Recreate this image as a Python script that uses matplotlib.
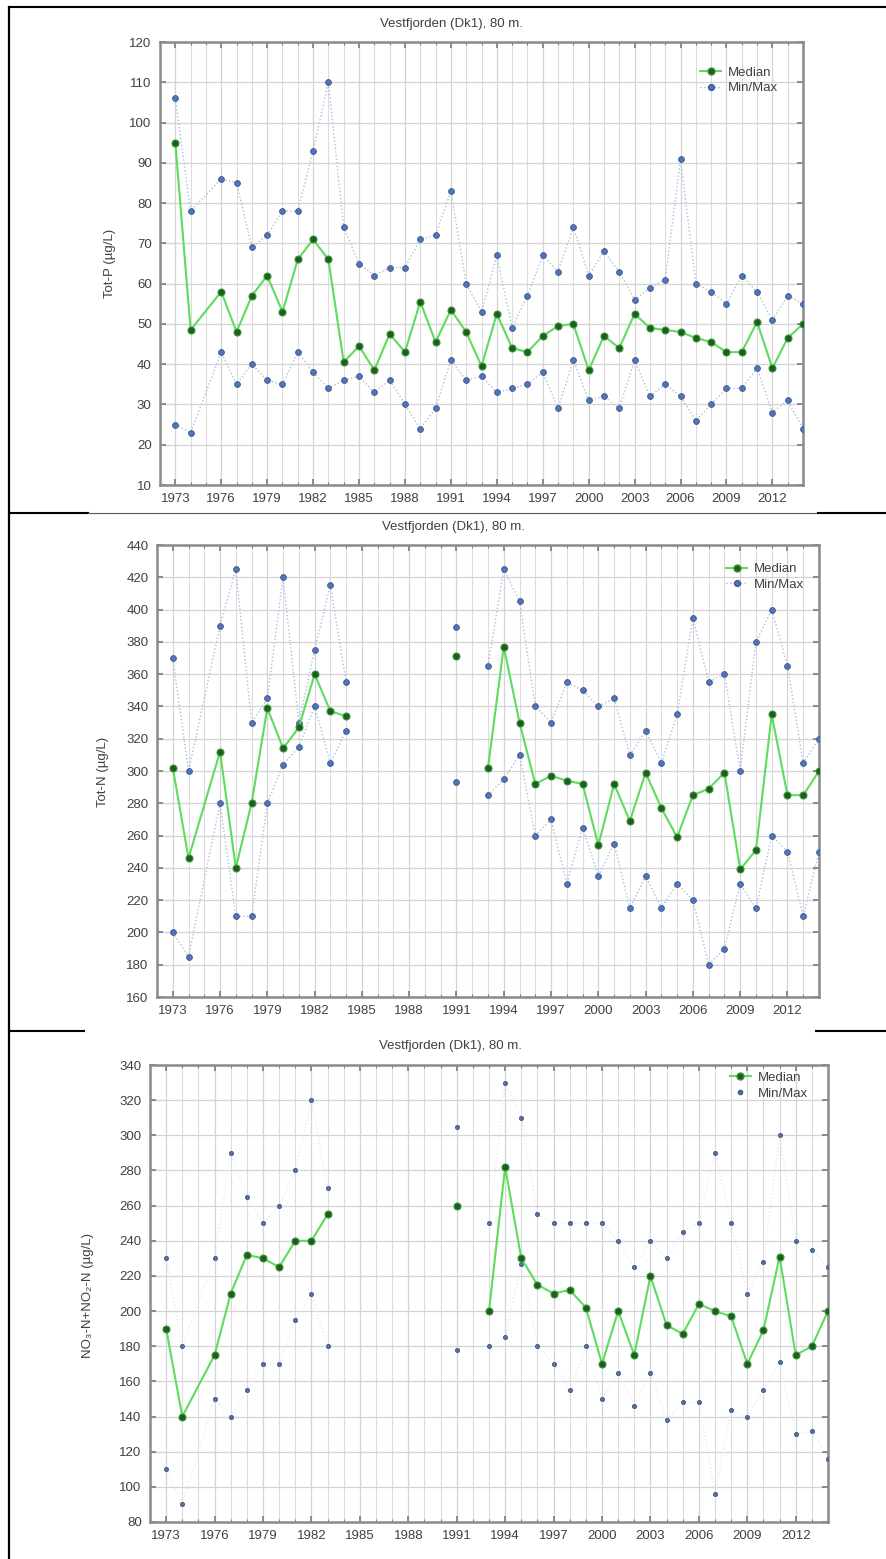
import numpy as np
import matplotlib
matplotlib.use("Agg")
import matplotlib.pyplot as plt
from matplotlib.lines import Line2D

plt.rcParams['font.family'] = ['Liberation Sans', 'DejaVu Sans']

nan = np.nan

# Sampling years (no survey in 1975)
years = [1973, 1974, 1976, 1977, 1978, 1979, 1980, 1981, 1982, 1983, 1984,
         1985, 1986, 1987, 1988, 1989, 1990, 1991, 1992, 1993, 1994, 1995,
         1996, 1997, 1998, 1999, 2000, 2001, 2002, 2003, 2004, 2005, 2006,
         2007, 2008, 2009, 2010, 2011, 2012, 2013, 2014]

# Tot-P (µg/L)
totp_median = [95, 48.5, 58, 48, 57, 62, 53, 66, 71, 66, 40.5, 44.5, 38.5, 47.5,
               43, 55.5, 45.5, 53.5, 48, 39.5, 52.5, 44, 43, 47, 49.5, 50, 38.5,
               47, 44, 52.5, 49, 48.5, 48, 46.5, 45.5, 43, 43, 50.5, 39, 46.5, 50]
totp_max = [106, 78, 86, 85, 69, 72, 78, 78, 93, 110, 74, 65, 62, 64, 64, 71, 72,
            83, 60, 53, 67, 49, 57, 67, 63, 74, 62, 68, 63, 56, 59, 61, 91, 60,
            58, 55, 62, 58, 51, 57, 55]
totp_min = [25, 23, 43, 35, 40, 36, 35, 43, 38, 34, 36, 37, 33, 36, 30, 24, 29,
            41, 36, 37, 33, 34, 35, 38, 29, 41, 31, 32, 29, 41, 32, 35, 32, 26,
            30, 34, 34, 39, 28, 31, 24]

# Tot-N (µg/L)
totn_median = [302, 246, 312, 240, 280, 339, 314, 327, 360, 337, 334,
               nan, nan, nan, nan, nan, nan, 371, nan, 302, 377, 330, 292, 297,
               294, 292, 254, 292, 269, 299, 277, 259, 285, 289, 299, 239, 251,
               335, 285, 285, 300]
totn_max = [370, 300, 390, 425, 330, 345, 420, 330, 375, 415, 355,
            nan, nan, nan, nan, nan, nan, 389, nan, 365, 425, 405, 340, 330,
            355, 350, 340, 345, 310, 325, 305, 335, 395, 355, 360, 300, 380,
            400, 365, 305, 320]
totn_min = [200, 185, 280, 210, 210, 280, 304, 315, 340, 305, 325,
            nan, nan, nan, nan, nan, nan, 293, nan, 285, 295, 310, 260, 270,
            230, 265, 235, 255, 215, 235, 215, 230, 220, 180, 190, 230, 215,
            260, 250, 210, 250]

# NO3-N + NO2-N (µg/L)
no3_median = [190, 140, 175, 210, 232, 230, 225, 240, 240, 255, nan,
              nan, nan, nan, nan, nan, nan, 260, nan, 200, 282, 230, 215, 210,
              212, 202, 170, 200, 175, 220, 192, 187, 204, 200, 197, 170, 189,
              231, 175, 180, 200]
no3_max = [230, 180, 230, 290, 265, 250, 260, 280, 320, 270, nan,
           nan, nan, nan, nan, nan, nan, 305, nan, 250, 330, 310, 255, 250,
           250, 250, 250, 240, 225, 240, 230, 245, 250, 290, 250, 210, 228,
           300, 240, 235, 225]
no3_min = [110, 90, 150, 140, 155, 170, 170, 195, 210, 180, nan,
           nan, nan, nan, nan, nan, nan, 178, nan, 180, 185, 227, 180, 170,
           155, 180, 150, 165, 146, 165, 138, 148, 148, 96, 144, 140, 155,
           171, 130, 132, 116]

title_text = "Vestfjorden (Dk1), 80 m."
year_ticks = [1973, 1976, 1979, 1982, 1985, 1988, 1991, 1994, 1997, 2000,
              2003, 2006, 2009, 2012]

W, H = 886, 1559
fig = plt.figure(figsize=(W / 100, H / 100), dpi=100)


def fx(x):
    return x / W


def fy(y):
    return 1 - y / H


def add_axes_px(left, top, right, bottom):
    return fig.add_axes([fx(left), fy(bottom), (right - left) / W, (bottom - top) / H])


GREEN_LINE = '#5ddc5d'
GREEN_MARK = '#1d5e1d'
BLUE_MARK = '#4f74b8'
BLUE_LINE = '#a9bfe3'
TXT = '#404040'


def draw_panel(ax, med, mx, mn, ylim, ystep, mm_lines=True, mm_size=4.2,
               mm_color=BLUE_MARK, legend_anchor=(0.84, 0.985)):
    x = np.array(years, dtype=float)
    ax.set_xlim(1972, 2014)
    ax.set_ylim(*ylim)
    ax.set_xticks(year_ticks)
    ax.set_xticks(np.arange(1972, 2015), minor=True)
    ax.set_yticks(np.arange(ylim[0], ylim[1] + 1, ystep))
    ax.grid(which='minor', axis='x', color='#dcdcdc', lw=0.8)
    ax.grid(which='major', axis='both', color='#d4d4d4', lw=0.9)
    ax.set_axisbelow(True)
    ax.tick_params(which='both', direction='in', top=True, right=True,
                   color='#7a7a7a', labelcolor=TXT, labelsize=9.5)
    ax.tick_params(which='major', length=4, width=1.2, pad=6)
    ax.tick_params(which='minor', length=2, width=0.8)
    for sp in ax.spines.values():
        sp.set_color('#8a8a8a')
        sp.set_linewidth(1.8)

    ls = (0, (1, 1.6)) if mm_lines else 'none'
    mm_line_col = BLUE_LINE if mm_lines else '#e6ebf3'
    ax.plot(x, mx, linestyle=(0, (1, 1.6)), color=mm_line_col, lw=1.0, zorder=2)
    ax.plot(x, mn, linestyle=(0, (1, 1.6)), color=mm_line_col, lw=1.0, zorder=2)
    ax.plot(x, mx, 'o', ms=mm_size, mfc=mm_color, mec='#3d5a92', mew=0.6, zorder=3)
    ax.plot(x, mn, 'o', ms=mm_size, mfc=mm_color, mec='#3d5a92', mew=0.6, zorder=3)
    ax.plot(x, med, '-', color=GREEN_LINE, lw=1.5, zorder=4)
    ax.plot(x, med, 'o', ms=5, mfc=GREEN_MARK, mec='#3a943a', mew=0.8, zorder=5)

    h_med = Line2D([], [], color=GREEN_LINE, lw=1.5, marker='o', ms=5,
                   mfc=GREEN_MARK, mec='#3a943a')
    h_mm = Line2D([], [], color=BLUE_LINE, lw=1.0, linestyle=ls, marker='o',
                  ms=mm_size, mfc=mm_color, mec='#3d5a92')
    leg = ax.legend([h_med, h_mm], ['Median', 'Min/Max'], loc='upper left',
                    bbox_to_anchor=legend_anchor, frameon=False, fontsize=9.5,
                    handlelength=1.6, handletextpad=0.5, labelspacing=0.25,
                    borderpad=0, borderaxespad=0)
    for t in leg.get_texts():
        t.set_color(TXT)


# Panel 1: total phosphorus
ax1 = add_axes_px(160, 42, 803, 485)
draw_panel(ax1, totp_median, totp_max, totp_min, (10, 120), 10,
           legend_anchor=(0.840, 0.945))
fig.text(fx(451), fy(24), title_text, ha='center', va='center', fontsize=9.5, color=TXT)
fig.text(fx(110), fy(263), "Tot-P (µg/L)", rotation=90, ha='center', va='center',
         fontsize=9.5, color=TXT)

# Panel 2: total nitrogen
ax2 = add_axes_px(157, 545, 819, 997)
draw_panel(ax2, totn_median, totn_max, totn_min, (160, 440), 20,
           legend_anchor=(0.860, 0.960))
fig.text(fx(453), fy(527), title_text, ha='center', va='center', fontsize=9.5, color=TXT)
fig.text(fx(103), fy(772), "Tot-N (µg/L)", rotation=90, ha='center', va='center',
         fontsize=9.5, color=TXT)

# Panel 3: nitrate + nitrite
ax3 = add_axes_px(150, 1065, 828, 1522)
draw_panel(ax3, no3_median, no3_max, no3_min, (80, 340), 20, mm_lines=False,
           mm_size=3.0, mm_color='#5f6f90', legend_anchor=(0.855, 0.985))
fig.text(fx(450), fy(1046), title_text, ha='center', va='center', fontsize=9.5, color=TXT)
fig.text(fx(88), fy(1295), "NO₃-N+NO₂-N (µg/L)", rotation=90, ha='center',
         va='center', fontsize=9.5, color=TXT)


# Table frame around the three panels
def hline(y, x0, x1, lw=1.5, color='black'):
    fig.add_artist(Line2D([fx(x0), fx(x1)], [fy(y), fy(y)], color=color, lw=lw))


fig.add_artist(Line2D([fx(9), fx(9)], [fy(7), fy(H)], color='black', lw=1.6))
hline(7, 9, W)
hline(513, 9, 88)
hline(513, 88, 818, lw=0.8, color='#555555')
hline(513, 818, W)
hline(1031, 9, 84)
hline(1031, 816, W)

fig.savefig("out.png", dpi=100)
